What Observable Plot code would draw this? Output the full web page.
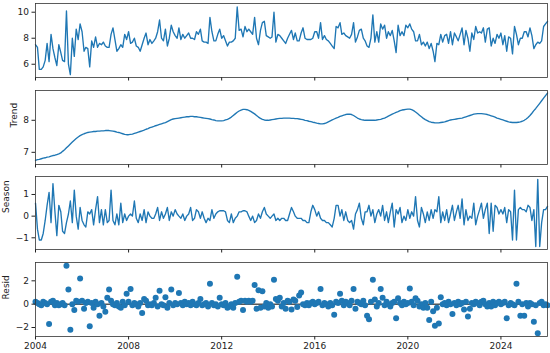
<!DOCTYPE html>
<html><head><meta charset="utf-8">
<script src="https://cdn.jsdelivr.net/npm/d3@7"></script>
<script src="https://cdn.jsdelivr.net/npm/@observablehq/plot@0.6"></script>
<style>
body{margin:0;background:#fff;}
#c{position:relative;width:550px;height:353px;overflow:hidden;background:#fff;}
#c svg{position:absolute;left:0;}
</style></head><body><div id="c"></div>
<script>
const startYear = 2004;
const observed = [
7.5,7.3,5.6,5.6,5.8,6.3,7.6,6.2,8.3,7.2,6.5,5.9,
7.5,6.9,6.3,6.2,10.1,6.0,5.2,8.0,6.6,8.7,7.9,9.1,
8.5,7.0,7.3,7.2,5.8,7.8,7.3,8.1,7.3,7.6,7.5,7.7,
7.4,7.3,7.3,8.3,8.8,7.9,7.0,7.2,7.5,7.3,8.3,7.9,
8.5,7.6,7.7,8.0,7.4,7.3,7.0,7.5,8.0,8.4,7.5,7.9,
7.6,7.8,8.0,8.5,9.4,8.0,7.8,8.7,7.4,8.0,9.0,8.5,
8.2,8.0,8.8,7.9,8.3,8.0,8.2,8.4,8.0,8.0,7.9,8.5,
8.3,8.7,7.8,7.7,7.7,7.6,9.6,8.5,7.8,7.8,8.3,8.7,
8.0,8.2,7.8,7.4,7.7,7.7,7.8,8.0,10.4,8.6,8.7,8.1,
8.9,8.5,8.7,8.5,8.3,9.6,8.0,7.5,8.6,9.2,9.3,8.2,
8.1,8.0,8.1,10.0,7.7,8.3,8.2,8.0,7.8,7.6,8.0,8.3,
8.6,7.9,8.4,7.8,7.8,8.4,8.8,8.0,7.9,7.9,7.9,8.0,
8.5,8.5,8.0,9.2,7.9,8.2,7.9,7.8,7.6,7.4,7.2,8.9,
8.8,9.2,8.3,8.4,8.2,8.1,8.0,8.3,9.2,7.7,8.1,8.6,
8.7,8.0,7.8,7.4,7.3,8.0,9.8,7.7,8.5,7.7,9.1,8.7,
9.0,8.0,8.5,8.2,8.6,7.8,6.9,9.0,8.2,8.5,8.2,9.0,
8.8,9.1,8.7,8.5,7.8,7.8,8.3,7.5,7.7,7.4,7.7,7.2,
7.6,7.0,6.2,7.6,7.5,8.3,7.7,8.2,8.3,7.6,8.5,7.5,
8.4,8.1,7.8,8.3,8.8,7.5,8.6,8.0,7.0,8.4,7.9,8.9,
8.4,8.5,8.4,8.8,7.7,8.7,8.8,7.4,8.0,7.6,8.3,8.0,
8.4,7.5,8.2,7.0,8.1,8.0,6.8,8.9,8.3,7.5,8.0,8.0,
8.5,8.5,8.1,8.8,8.2,7.2,7.5,7.7,7.6,7.8,8.9,9.1,
9.3];
const trend = [
6.75,6.77,6.78,6.80,6.82,6.83,6.85,6.86,6.88,6.90,6.91,6.93,
6.95,6.98,7.03,7.08,7.14,7.20,7.26,7.32,7.38,7.43,7.48,7.52,
7.55,7.58,7.60,7.62,7.63,7.64,7.65,7.65,7.66,7.66,7.67,7.67,
7.68,7.68,7.68,7.67,7.66,7.65,7.63,7.62,7.60,7.58,7.56,7.55,
7.55,7.56,7.57,7.59,7.61,7.63,7.65,7.67,7.69,7.72,7.74,7.77,
7.79,7.81,7.83,7.85,7.87,7.89,7.91,7.93,7.96,7.99,8.02,8.04,
8.05,8.06,8.07,8.08,8.09,8.10,8.11,8.11,8.12,8.12,8.11,8.11,
8.10,8.09,8.08,8.07,8.06,8.05,8.04,8.02,8.01,7.99,7.98,7.98,
7.98,7.99,8.01,8.03,8.06,8.10,8.15,8.20,8.25,8.29,8.32,8.34,
8.34,8.33,8.31,8.28,8.24,8.20,8.15,8.10,8.06,8.03,8.01,8.00,
8.00,8.01,8.02,8.03,8.04,8.05,8.06,8.06,8.07,8.07,8.07,8.07,
8.06,8.06,8.05,8.05,8.04,8.03,8.02,8.00,7.99,7.97,7.96,7.94,
7.93,7.91,7.90,7.89,7.89,7.90,7.92,7.95,7.98,8.01,8.04,8.07,
8.09,8.12,8.14,8.16,8.18,8.19,8.19,8.18,8.15,8.11,8.07,8.04,
8.02,8.01,8.00,8.00,8.00,8.00,8.00,8.00,8.01,8.02,8.03,8.05,
8.07,8.10,8.13,8.16,8.19,8.22,8.25,8.27,8.30,8.32,8.33,8.34,
8.35,8.35,8.33,8.30,8.26,8.21,8.16,8.11,8.06,8.02,7.99,7.96,
7.94,7.93,7.92,7.92,7.92,7.93,7.94,7.95,7.97,7.99,8.01,8.02,
8.03,8.04,8.05,8.06,8.07,8.09,8.11,8.13,8.15,8.17,8.19,8.20,
8.21,8.21,8.21,8.20,8.19,8.18,8.16,8.14,8.12,8.10,8.07,8.05,
8.03,8.01,7.99,7.97,7.95,7.94,7.93,7.93,7.93,7.94,7.95,7.97,
8.00,8.04,8.09,8.15,8.22,8.30,8.37,8.45,8.53,8.61,8.69,8.77,
8.85];
const seasonal = [
0.6,-0.6,-1.1,-1.1,-0.8,-0.2,0.5,1.1,-0.3,1.5,0.2,-0.9,
0.5,0.2,-0.7,-0.8,-0.3,0.1,0.7,-0.3,1.2,0.0,-0.6,0.4,
-0.2,-0.4,-0.5,0.2,0.1,0.3,-0.4,0.3,0.9,-0.3,0.3,-0.4,
0.3,-0.3,-0.2,1.2,-0.2,-0.4,0.1,-0.4,0.6,-0.3,0.1,-0.2,
0.0,0.1,0.0,0.7,-0.1,-0.3,0.1,-0.2,0.3,-0.3,0.2,0.0,
-0.1,-0.1,0.1,0.4,-0.2,0.2,-0.1,0.1,0.4,-0.2,0.2,0.0,
0.3,0.1,0.0,-0.1,0.1,-0.2,0.0,0.1,0.4,-0.2,-0.1,0.3,
0.2,-0.1,0.2,-0.1,-0.3,-0.1,-0.2,0.3,-0.1,0.1,0.2,0.25,
0.25,0.25,0.2,-0.2,-0.3,0.1,-0.3,-0.1,0.0,0.2,0.2,0.25,
0.25,0.2,0.0,-0.2,0.0,-0.3,-0.2,0.1,-0.1,0.2,0.4,0.1,
0.0,-0.1,0.0,0.1,-0.2,-0.1,-0.2,-0.1,-0.1,-0.2,-0.2,0.1,
0.4,0.2,0.0,-0.1,-0.1,-0.1,-0.2,-0.2,-0.3,-0.3,0.2,0.5,
0.3,0.0,0.2,-0.1,-0.2,-0.2,-0.3,-0.3,-0.4,-0.5,-0.1,0.5,
0.5,0.0,0.3,-0.2,0.2,-0.2,-0.3,-0.2,-0.6,0.1,0.3,0.6,
-0.1,-0.4,0.2,0.2,0.5,0.0,0.3,-0.3,0.1,0.3,0.0,0.5,
-0.2,0.2,-0.3,0.2,0.6,-0.5,0.3,0.1,0.4,-0.3,0.0,-0.2,
0.3,-0.1,0.2,0.0,0.9,-0.2,-0.5,0.4,0.1,-0.3,0.2,-0.2,
0.3,-0.1,0.3,0.2,0.9,-0.3,0.2,-0.2,0.3,-0.3,0.1,0.5,
-0.2,0.2,0.5,-0.1,0.8,-0.4,0.3,-0.2,0.0,-0.1,0.6,-0.4,
0.0,0.3,0.6,-0.1,0.3,0.6,-0.8,0.6,-0.7,0.5,0.4,0.1,
0.3,0.1,0.4,-0.3,0.3,0.2,-1.1,1.2,-1.1,0.3,0.4,0.3,
0.3,0.2,0.5,0.4,-0.2,0.3,-1.4,1.7,-1.4,-0.3,0.3,0.3,
0.45];
const resid = [
0.2,0.1,0.0,-0.1,0.2,0.1,0.0,-1.7,0.2,0.3,-0.1,0.1,
-0.1,0.0,0.1,-0.1,3.3,1.25,-2.2,0.0,-0.5,0.3,0.2,2.2,
0.3,-0.4,0.1,0.2,-1.9,0.1,-0.3,0.2,0.0,-1.0,0.1,-0.2,
-0.65,0.55,1.25,0.3,0.0,-0.1,0.1,-0.2,-0.3,0.2,-0.1,0.9,
0.2,1.3,-0.1,0.1,0.0,-0.2,0.1,-0.75,0.45,0.3,-0.1,0.0,
-0.1,0.1,0.55,-0.2,1.15,0.0,-0.1,0.6,-0.3,0.1,1.25,-0.1,
0.1,0.0,0.95,0.1,-0.1,0.2,0.0,0.1,-0.1,0.2,0.0,-0.1,
0.1,0.45,-0.1,0.0,0.1,-0.2,1.75,0.1,-0.1,0.0,-0.2,0.55,
0.0,-0.1,0.1,-0.3,-0.2,0.0,-0.3,0.1,2.35,0.2,0.3,-0.5,
0.3,0.2,0.3,0.2,0.3,1.65,-0.4,1.2,-0.3,1.1,-0.2,0.1,
-0.3,0.0,-0.2,2.1,0.45,0.3,0.55,-0.2,0.1,-0.4,0.3,0.2,
-0.45,0.4,0.3,-0.25,0.75,1.0,0.0,-0.1,0.1,-0.1,0.1,0.2,
0.0,0.1,0.2,1.3,-0.1,0.1,0.0,-0.2,0.1,-0.1,-0.9,0.2,
0.1,0.9,0.3,-0.1,0.2,0.1,-0.1,0.3,1.3,-0.4,0.2,0.1,
0.0,0.3,-0.1,-1.0,-1.3,0.2,2.1,0.4,-0.2,0.1,1.3,0.55,
-0.1,0.2,0.0,-0.2,0.1,0.2,-1.2,0.5,0.1,-0.1,0.2,0.0,
0.1,1.35,0.2,-0.1,0.5,0.3,-0.2,0.0,-0.3,0.1,-0.3,-1.35,
0.2,-0.6,-1.85,-0.3,-1.65,0.6,0.0,0.1,-0.1,0.2,0.0,-0.85,
0.1,-0.1,0.2,0.0,0.1,-0.45,0.2,-1.05,-0.4,0.1,0.0,0.2,
0.1,-0.1,0.2,0.3,0.0,-0.2,0.1,-0.2,0.2,-0.1,0.1,0.2,
0.0,0.1,0.2,-1.2,-0.1,0.1,0.0,-0.1,1.75,0.2,-1.0,0.0,
-1.0,0.1,-0.2,0.1,0.0,-1.5,-0.1,-2.5,0.1,0.2,-0.1,0.0,
-0.1];
const xTickYears = [2004, 2008, 2012, 2016, 2020, 2024];

const rows = observed.map((v, i) => ({
  date: new Date(Date.UTC(startYear, i, 1)),
  observed: v, trend: trend[i], seasonal: seasonal[i], resid: resid[i]
}));
const xDomain = [rows[0].date, rows[rows.length - 1].date];
const xTicks = xTickYears.map(y => new Date(Date.UTC(y, 0, 1)));
const fmtY = d => d < 0 ? "\u2212" + (-d) : String(d);

const panels = [
  {key: "observed", label: "", yTicks: [6, 8, 10], domain: [4.98, 10.67], top: 3, bottom: 77, labelDx: -29},
  {key: "trend", label: "Trend", yTicks: [7, 8], domain: [6.62, 8.93], top: 90, bottom: 164, labelDx: -21},
  {key: "seasonal", label: "Season", yTicks: [-1, 0, 1], domain: [-1.54, 1.83], top: 176, bottom: 249, labelDx: -29},
  {key: "resid", label: "Resid", yTicks: [-2, 0, 2], domain: [-2.77, 3.57], top: 262, bottom: 336, labelDx: -29}
];
const blue = "#1f77b4";
const container = document.getElementById("c");

panels.forEach((cfg, idx) => {
  const isLast = idx === panels.length - 1;
  const mt = 4, mb = isLast ? 20 : 6;
  const h = cfg.bottom - cfg.top + mt + mb;
  const marks = [];
  if (cfg.key === "resid") {
    marks.push(Plot.ruleY([0], {stroke: "#000", strokeWidth: 1}));
    marks.push(Plot.dot(rows, {x: "date", y: "resid", r: 3, fill: blue, stroke: "none"}));
  } else {
    marks.push(Plot.line(rows, {x: "date", y: cfg.key, stroke: blue, strokeWidth: 1.35}));
  }
  marks.push(Plot.axisY({ticks: cfg.yTicks, tickSize: 3.5, tickPadding: 3, tickFormat: fmtY, label: null, fontSize: 9}));
  marks.push(Plot.axisX({ticks: xTicks, tickSize: 3.5, tickPadding: 3, tickFormat: isLast ? d3.utcFormat("%Y") : () => "", label: null, fontSize: 9}));
  marks.push(Plot.frame({stroke: "#333", strokeWidth: 0.8}));
  if (cfg.label) {
    marks.push(Plot.text([cfg.label], {frameAnchor: "left", rotate: -90, dx: cfg.labelDx, fontSize: 9, fill: "#222"}));
  }
  const svg = Plot.plot({
    width: 550, height: h,
    marginLeft: 35, marginRight: 3, marginTop: mt, marginBottom: mb,
    x: {type: "utc", domain: xDomain},
    y: {domain: cfg.domain},
    style: {fontFamily: "DejaVu Sans", fontSize: "9px", color: "#222", background: "transparent", overflow: "visible"},
    marks
  });
  svg.style.top = (cfg.top - mt) + "px";
  container.append(svg);
});
</script>
</body></html>
